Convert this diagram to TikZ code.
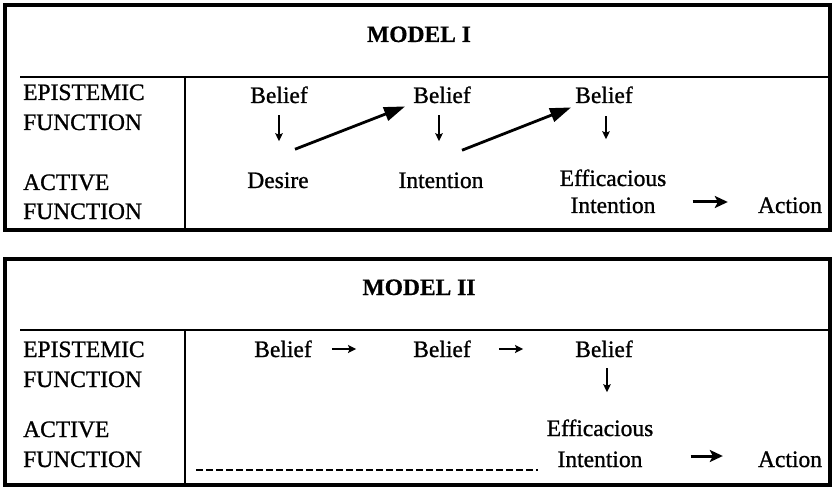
\documentclass[tikz,border=0pt]{standalone}
\usepackage{fontspec}
\setmainfont{Liberation Serif}
\newfontfamily\inkserif[FakeBold=1.0]{Liberation Serif}
\newfontfamily\inkserifbold[FakeBold=0.6]{Liberation Serif Bold}
\usetikzlibrary{arrows.meta,calc}
\begin{document}
\begin{tikzpicture}[x=1pt,y=-1pt,
  txt/.style={anchor=base,inner sep=0pt,font=\inkserif\fontsize{23.5}{26}\selectfont},
  lbl/.style={txt,anchor=base west},
  ttl/.style={txt,font=\inkserifbold\fontsize{23.5}{26}\selectfont},
  frame/.style={line width=4pt},
  rule/.style={line width=2.4pt},
  divider/.style={line width=1.4pt},
  downarr/.style={line width=1.8pt,-{Stealth[length=8pt,width=7.5pt,inset=1.5pt]}},
  bigarr/.style={line width=2.8pt,-{Triangle[length=21pt,width=14pt]}},
  fatarr/.style={line width=3pt,-{Stealth[length=13pt,width=12pt,inset=3pt]}},
  smallarr/.style={line width=2.2pt,-{Stealth[length=8pt,width=8pt,inset=1.5pt]}},
  dashline/.style={line width=2.4pt,dash pattern=on 7pt off 3pt}]
\useasboundingbox (0,0) rectangle (835,489);

% ---------------- Model I ----------------
\draw[frame] (5,5) rectangle (830,229.5);
\draw[rule] (20,77) -- (830,77);
\draw[divider] (185,77) -- (185,229.5);
\node[ttl] (t1) at (419,42) {MODEL I};
\node[lbl] (e1a) at (23,100) {EPISTEMIC};
\node[lbl] (e1b) at (23,130) {FUNCTION};
\node[lbl] (a1a) at (23,190) {ACTIVE};
\node[lbl] (a1b) at (23,219) {FUNCTION};

\node[txt] (ab1) at (279,103) {Belief};
\node[txt] (ab2) at (442,103) {Belief};
\node[txt] (ab3) at (604,103) {Belief};
\node[txt] (ades) at (278,188) {Desire};
\node[txt] (aint) at (441,188) {Intention};
\node[txt] (aeff) at (613,186) {Efficacious};
\node[txt] (aei) at (613,213) {Intention};
\node[txt] (aact) at (790,213) {Action};

\draw[downarr] ($(ab1.south)+(0pt,-12pt)$) -- ($(ab1.south |- ades.north)+(0pt,31pt)$);
\draw[downarr] ($(ab2.south)+(-3pt,-12pt)$) -- ($(ab2.south |- aint.north)+(-3pt,31pt)$);
\draw[downarr] ($(ab3.south)+(2pt,-13pt)$) -- ($(ab3.south |- aeff.north)+(2pt,30pt)$);
\draw[bigarr] ($(ades.north)+(17pt,23pt)$) -- ($(ab2.south west)+(-8pt,-3pt)$);
\draw[bigarr] ($(aint.north)+(21pt,22pt)$) -- ($(ab3.south west)+(-4pt,-4pt)$);
\draw[fatarr] ([xshift=37pt,yshift=11pt]aei.base east) -- ([xshift=-30pt,yshift=11pt]aact.base west);

% ---------------- Model II ----------------
\draw[frame] (5,259) rectangle (830,485);
\draw[rule] (20,330) -- (830,330);
\draw[divider] (185,330) -- (185,485);
\node[ttl] (t2) at (419,295) {MODEL II};
\node[lbl] (e2a) at (23,357) {EPISTEMIC};
\node[lbl] (e2b) at (23,387) {FUNCTION};
\node[lbl] (a2a) at (23,437) {ACTIVE};
\node[lbl] (a2b) at (23,467) {FUNCTION};

\node[txt] (bb1) at (283,357) {Belief};
\node[txt] (bb2) at (442,357) {Belief};
\node[txt] (bb3) at (604,357) {Belief};
\node[txt] (beff) at (600,436) {Efficacious};
\node[txt] (bei) at (600,467) {Intention};
\node[txt] (bact) at (790,467) {Action};

\draw[smallarr] ([xshift=20pt,yshift=8pt]bb1.base east) -- ([xshift=-57pt,yshift=8pt]bb2.base west);
\draw[smallarr] ([xshift=28pt,yshift=8pt]bb2.base east) -- ([xshift=-52pt,yshift=8pt]bb3.base west);
\draw[downarr] ($(bb3.south)+(3pt,-11pt)$) -- ($(bb3.south |- beff.north)+(3pt,27pt)$);
\draw[fatarr] ([xshift=48pt,yshift=11pt]bei.base east) -- ([xshift=-35pt,yshift=11pt]bact.base west);
\draw[dashline] (196,470) -- (538,470);
\end{tikzpicture}
\end{document}
